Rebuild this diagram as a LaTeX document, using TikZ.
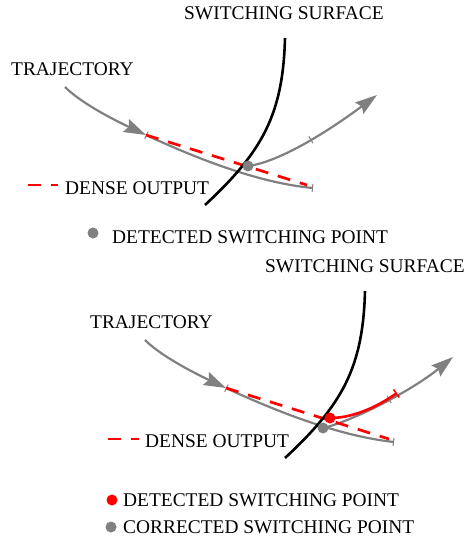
\documentclass[tikz,border=0pt]{standalone}
\usepackage{fontspec}
\setmainfont{Liberation Serif}
\usetikzlibrary{arrows.meta}
\definecolor{trajgray}{RGB}{128,128,128}
\begin{document}
\begin{tikzpicture}[x=1pt,y=-1pt,
  lbl/.style={anchor=base west, inner sep=0pt, font=\fontsize{19.4}{22}\selectfont},
  traj/.style={draw=trajgray, line width=2.2pt},
  surf/.style={draw=black, line width=2.6pt},
  dense/.style={draw=red, line width=2.7pt, dash pattern=on 13pt off 10pt},
  head/.style={-{Stealth[length=22pt,width=14pt,inset=3pt]}},
  bars/.style={{Bar[width=8pt,line width=1pt]}-{Bar[width=8pt,line width=1pt]}},
  tk/.style={sloped, draw=trajgray, line width=1pt, inner sep=0pt, minimum width=0pt, minimum height=8pt, rectangle, outer sep=0pt},
  dot/.style={circle, inner sep=0pt, minimum size=11pt},
]
\useasboundingbox (0,0) rectangle (467,542);

% ---------------- top diagram ----------------
\node[lbl] (ss1) at (184,19) {SWITCHING SURFACE};
\node[lbl] (tr1) at (11,75) {TRAJECTORY};
\node[lbl] (do1) at (65,194) {DENSE OUTPUT};
\node[lbl] (dp1) at (112,243) {DETECTED SWITCHING POINT};

\coordinate (a1) at (65,87);
\coordinate (b1) at (146,135);
\coordinate (c1) at (313,188);
\coordinate (p1) at (248,166);
\coordinate (e1) at (377,95);
\coordinate (s1a) at (285,38);
\coordinate (s1b) at (205,205);
\coordinate (d1) at (307,185);

\draw[traj, head] (a1) .. controls (80,102) and (110,118) .. (b1);
\draw[traj, bars] (b1) .. controls (200,160) and (260,183) .. (c1);
\draw[traj, head] (p1) .. controls (280,162) and (330,130) .. node[tk, pos=0.53] {} (e1);
\draw[dense] (b1) -- (d1);
\draw[surf] (s1a) .. controls (283,115) and (262,152) .. (s1b);
\node[dot, fill=trajgray] (pt1) at (p1) {};

\draw[dense] (28,185) coordinate (l1a) -- (58,185) coordinate (l1b);
\node[dot, fill=trajgray] (lg1) at (93,233) {};

% ---------------- bottom diagram ----------------
\node[lbl] (ss2) at (265,272) {SWITCHING SURFACE};
\node[lbl] (tr2) at (90,328) {TRAJECTORY};
\node[lbl] (do2) at (145,447) {DENSE OUTPUT};
\node[lbl] (dp2) at (123,506) {DETECTED SWITCHING POINT};
\node[lbl] (cp2) at (123,533) {CORRECTED SWITCHING POINT};

\coordinate (a2) at (145,340);
\coordinate (b2) at (226,388);
\coordinate (c2) at (394,442);
\coordinate (p2) at (330,418);
\coordinate (q2) at (323,428);
\coordinate (e2) at (453,357);
\coordinate (r2) at (397,393);
\coordinate (s2a) at (365,291);
\coordinate (s2b) at (285,458);
\coordinate (d2) at (389,439);

\draw[traj, head] (a2) .. controls (160,355) and (190,371) .. (b2);
\draw[traj, bars] (b2) .. controls (280,413) and (340,436) .. (c2);
\draw[traj, head] (q2) .. controls (350,422) and (410,392) .. node[tk, pos=0.55] {} (e2);
\draw[dense] (b2) -- (d2);
\draw[draw=red, line width=2.6pt, -{Bar[width=10pt,line width=1.5pt]}] (p2) .. controls (355,418) and (380,405) .. (r2);
\draw[surf] (s2a) .. controls (363,368) and (342,405) .. (s2b);
\node[dot, fill=trajgray] (pt2) at (q2) {};
\node[dot, fill=red] (pr2) at (p2) {};

\draw[dense] (108,439) coordinate (l2a) -- (139,439) coordinate (l2b);
\node[dot, fill=red] (lg2) at (112,500) {};
\node[dot, fill=trajgray] (lg3) at (111,527) {};
\end{tikzpicture}
\end{document}
